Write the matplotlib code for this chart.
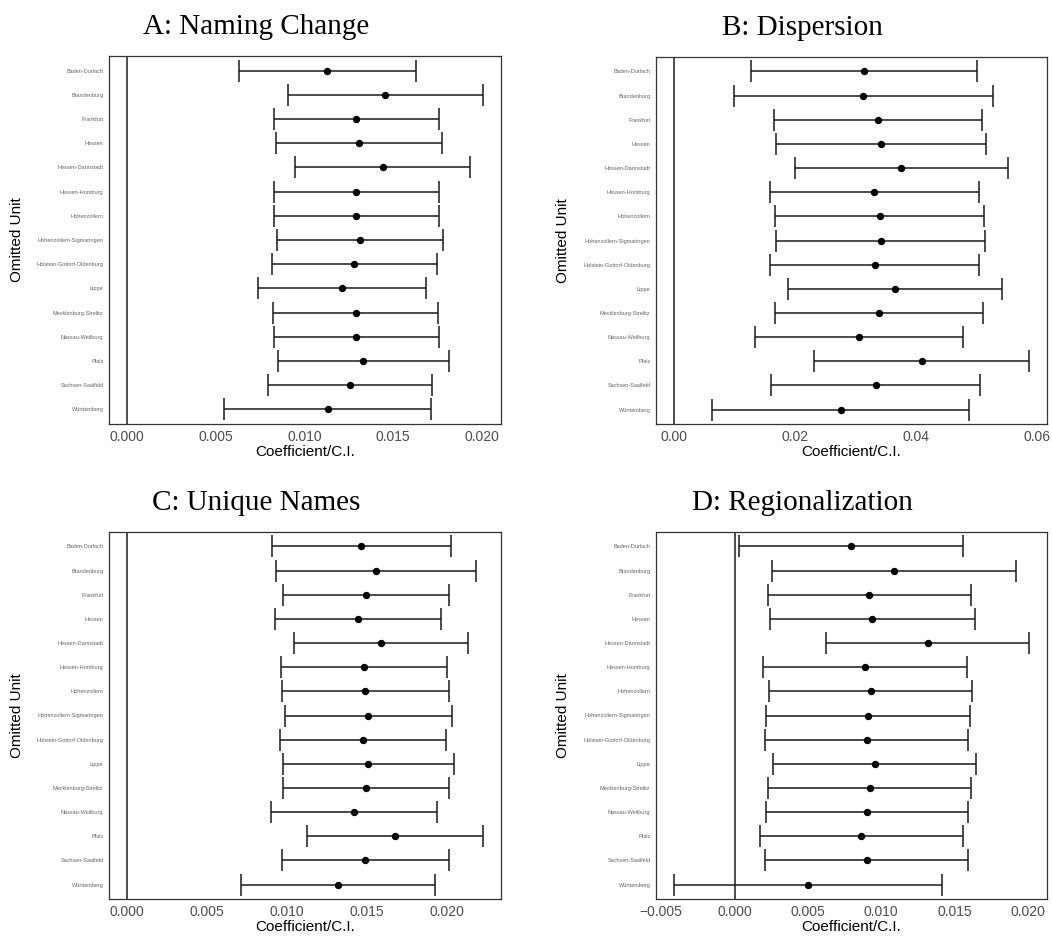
#!/usr/bin/env python3

import matplotlib
matplotlib.use("Agg")
import matplotlib.pyplot as plt
from matplotlib.ticker import MultipleLocator, FuncFormatter


units = [
    "Baden-Durlach", "Brandenburg", "Frankfurt", "Hessen", "Hessen-Darmstadt",
    "Hessen-Homburg", "Hohenzollern", "Hohenzollern-Sigmaringen",
    "Holstein-Gottorf-Oldenburg", "Lippe", "Mecklenburg-Strelitz",
    "Nassau-Weilburg", "Pfalz", "Sachsen-Saalfeld", "Württemberg",
]

# A: Naming Change
naming_est = [0.01129, 0.01455, 0.01292, 0.01307, 0.01440, 0.01290, 0.01290, 0.01315,
              0.01281, 0.01210, 0.01288, 0.01292, 0.01330, 0.01257, 0.01131]
naming_lo = [0.00631, 0.00906, 0.00828, 0.00841, 0.00949, 0.00826, 0.00826, 0.00848,
             0.00816, 0.00736, 0.00822, 0.00826, 0.00850, 0.00796, 0.00545]
naming_hi = [0.01627, 0.02006, 0.01758, 0.01775, 0.01931, 0.01758, 0.01758, 0.01781,
             0.01747, 0.01684, 0.01753, 0.01758, 0.01811, 0.01719, 0.01715]

# B: Dispersion
disp_est = [0.03144, 0.03133, 0.03380, 0.03418, 0.03764, 0.03309, 0.03402, 0.03418,
            0.03320, 0.03654, 0.03391, 0.03067, 0.04099, 0.03342, 0.02760]
disp_lo = [0.01278, 0.00999, 0.01663, 0.01695, 0.02003, 0.01586, 0.01679, 0.01690,
           0.01591, 0.01888, 0.01668, 0.01350, 0.02321, 0.01613, 0.00636]
disp_hi = [0.05015, 0.05273, 0.05103, 0.05158, 0.05525, 0.05043, 0.05130, 0.05152,
           0.05048, 0.05427, 0.05114, 0.04785, 0.05877, 0.05064, 0.04878]

# C: Unique Names
unique_est = [0.01462, 0.01557, 0.01493, 0.01441, 0.01588, 0.01480, 0.01489, 0.01507,
              0.01474, 0.01507, 0.01491, 0.01418, 0.01674, 0.01489, 0.01320]
unique_lo = [0.00904, 0.00933, 0.00973, 0.00923, 0.01042, 0.00965, 0.00969, 0.00988,
             0.00954, 0.00975, 0.00973, 0.00898, 0.01125, 0.00971, 0.00715]
unique_hi = [0.02023, 0.02183, 0.02012, 0.01960, 0.02133, 0.02002, 0.02010, 0.02029,
             0.01992, 0.02042, 0.02010, 0.01938, 0.02225, 0.02010, 0.01927]

# D: Regionalization
region_est = [0.00794, 0.01084, 0.00919, 0.00939, 0.01317, 0.00889, 0.00928, 0.00910,
              0.00903, 0.00955, 0.00921, 0.00903, 0.00864, 0.00903, 0.00500]
region_lo = [0.00032, 0.00253, 0.00229, 0.00242, 0.00624, 0.00197, 0.00235, 0.00215,
             0.00210, 0.00260, 0.00229, 0.00213, 0.00172, 0.00210, -0.00414]
region_hi = [0.01559, 0.01916, 0.01611, 0.01636, 0.02009, 0.01584, 0.01622, 0.01606,
             0.01595, 0.01647, 0.01613, 0.01595, 0.01559, 0.01595, 0.01416]

W, H = 1052, 936
GREY = "#4D4D4D"


def fmt_tick(decimals):
    return FuncFormatter(lambda v, pos: f"{v:.{decimals}f}".replace("-", "\u2212"))


def draw_panel(fig, rect, title, title_x, ylab_x, est, lo, hi, step, decimals):
    left, top, right, bottom = rect
    ax = fig.add_axes([left / W, 1 - bottom / H, (right - left) / W, (bottom - top) / H])
    n = len(units)
    ypos = list(range(n, 0, -1))
    xerr = [[e - l for e, l in zip(est, lo)], [h - e for e, h in zip(est, hi)]]

    ax.axvline(0, color=GREY, lw=1.4, zorder=1)
    ax.errorbar(est, ypos, xerr=xerr, fmt="o", color="black", ecolor="#1a1a1a",
                elinewidth=1.1, capsize=7.8, capthick=1.1, markersize=4.3, zorder=3)

    # ggplot-like 5% expansion
    xmin = min(min(lo), 0.0)
    xmax = max(max(hi), 0.0)
    pad = 0.05 * (xmax - xmin)
    ax.set_xlim(xmin - pad, xmax + pad)
    ax.set_ylim(0.4, n + 0.6)

    ax.set_yticks(ypos)
    ax.set_yticklabels(units, fontsize=4, color="#666666", family="Liberation Sans")
    ax.xaxis.set_major_locator(MultipleLocator(step))
    ax.xaxis.set_major_formatter(fmt_tick(decimals))
    ax.tick_params(axis="both", length=0)
    ax.tick_params(axis="x", labelsize=10, labelcolor=GREY, pad=4)
    ax.tick_params(axis="y", pad=4)
    for lab in ax.get_xticklabels():
        lab.set_family("Liberation Sans")

    for spine in ax.spines.values():
        spine.set_color("#333333")
        spine.set_linewidth(0.9)

    ax.set_xlabel("Coefficient/C.I.", fontsize=11, family="Liberation Sans", labelpad=1)

    fig.text(title_x / W, 1 - (top - 22) / H, title, fontsize=21, family="Liberation Serif",
             ha="center", va="baseline")
    fig.text(ylab_x / W, 1 - ((top + bottom) / 2) / H, "Omitted Unit", fontsize=11,
             family="Liberation Sans", rotation=90, ha="center", va="center")
    return ax


def main():
    fig = plt.figure(figsize=(W / 100, H / 100), dpi=100)

    draw_panel(fig, (109, 56, 501, 424), "A: Naming Change", 256, 17,
               naming_est, naming_lo, naming_hi, 0.005, 3)
    draw_panel(fig, (656, 57, 1047, 424), "B: Dispersion", 802, 563,
               disp_est, disp_lo, disp_hi, 0.02, 2)
    draw_panel(fig, (109, 532, 501, 899), "C: Unique Names", 256, 17,
               unique_est, unique_lo, unique_hi, 0.005, 3)
    draw_panel(fig, (656, 532, 1047, 899), "D: Regionalization", 802, 563,
               region_est, region_lo, region_hi, 0.005, 3)

    fig.savefig("out.png", dpi=100)
    plt.close(fig)


if __name__ == "__main__":
    main()
